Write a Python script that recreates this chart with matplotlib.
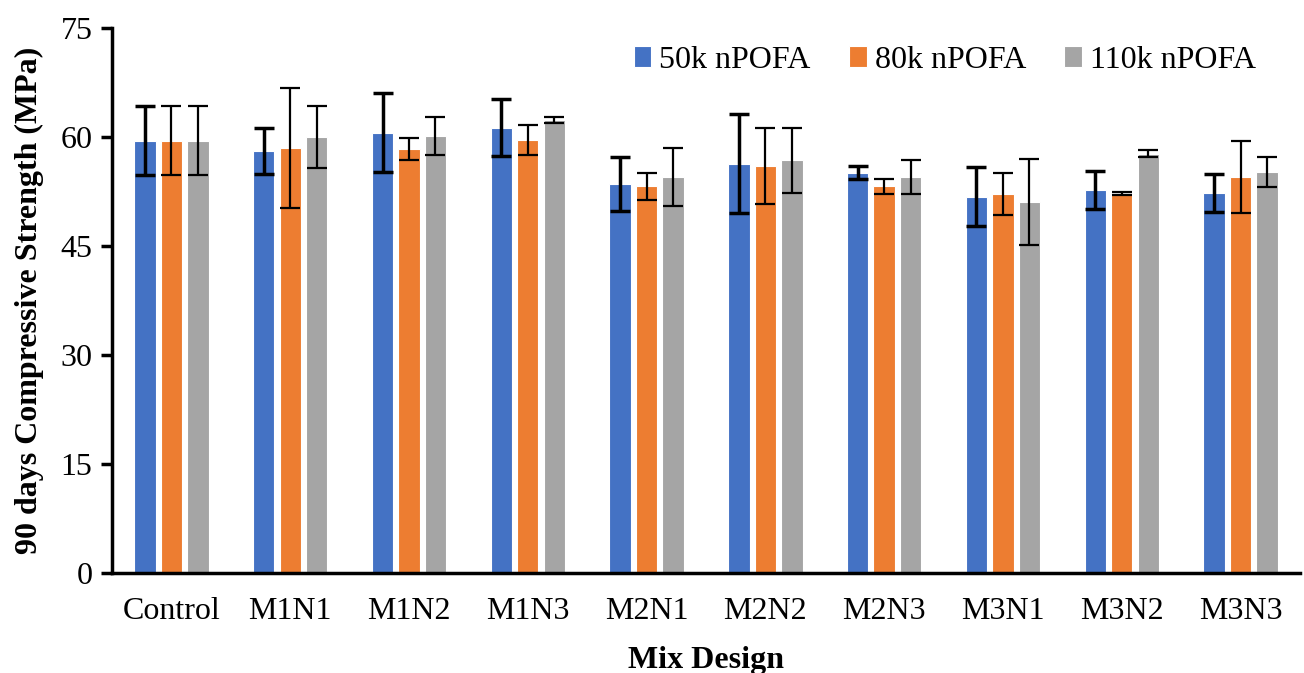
import numpy as np
import matplotlib.pyplot as plt

plt.rcParams["font.family"] = ["Liberation Serif", "DejaVu Serif"]

mixes = ["Control", "M1N1", "M1N2", "M1N3", "M2N1", "M2N2", "M2N3", "M3N1", "M3N2", "M3N3"]
series = ["50k nPOFA", "80k nPOFA", "110k nPOFA"]

s50 = [59.5, 58.1, 60.6, 61.3, 53.5, 56.3, 55.1, 51.8, 52.7, 52.3]
s80 = [59.5, 58.5, 58.4, 59.6, 53.2, 56.0, 53.2, 52.1, 52.2, 54.5]
s110 = [59.5, 60.0, 60.1, 62.3, 54.5, 56.8, 54.5, 51.1, 57.7, 55.2]

e50 = [4.7, 3.2, 5.4, 3.9, 3.7, 6.8, 0.9, 4.1, 2.6, 2.6]
e80 = [4.7, 8.3, 1.5, 2.1, 1.9, 5.2, 1.0, 2.9, 0.2, 4.9]
e110 = [4.7, 4.3, 2.6, 0.4, 4.0, 4.5, 2.3, 5.9, 0.5, 2.1]

colors = ["#4472C4", "#ED7D31", "#A5A5A5"]

fig = plt.figure(figsize=(13.04, 6.73), dpi=100)
ax = fig.add_axes([0.0859, 0.1486, 0.911, 0.8098])

x = np.arange(len(mixes))
w = 0.18
step = 0.223
err_lw = [2.5, 1.6, 1.6]
for i, (vals, errs) in enumerate(zip([s50, s80, s110], [e50, e80, e110])):
    pos = x + (i - 1) * step
    ax.bar(pos, vals, w, color=colors[i], edgecolor="white", linewidth=0.8,
           label=series[i], zorder=2)
    ax.errorbar(pos, vals, yerr=errs, fmt="none", ecolor="black",
                elinewidth=err_lw[i], capsize=7.5, capthick=err_lw[i], zorder=3)

ax.set_xlim(-0.5, len(mixes) - 0.5)
ax.set_ylim(0, 75)
ax.set_yticks([0, 15, 30, 45, 60, 75])
ax.set_xticks(x)
ax.set_xticklabels(mixes)
ax.tick_params(axis="y", direction="out", length=8, width=2.5, labelsize=23, pad=6)
ax.tick_params(axis="x", length=0, labelsize=23, pad=17)

for side in ["top", "right"]:
    ax.spines[side].set_visible(False)
for side in ["left", "bottom"]:
    ax.spines[side].set_linewidth(2.5)

ax.set_ylabel("90 days Compressive Strength (MPa)", fontsize=23, fontweight="bold", labelpad=12)
ax.set_xlabel("Mix Design", fontsize=23, fontweight="bold", labelpad=15)

ax.legend(loc="upper right", bbox_to_anchor=(0.987, 1.02), ncol=3, frameon=False,
          fontsize=23, handlelength=0.55, handleheight=0.6, columnspacing=1.2,
          handletextpad=0.25)

fig.savefig("out.png", dpi=100)
